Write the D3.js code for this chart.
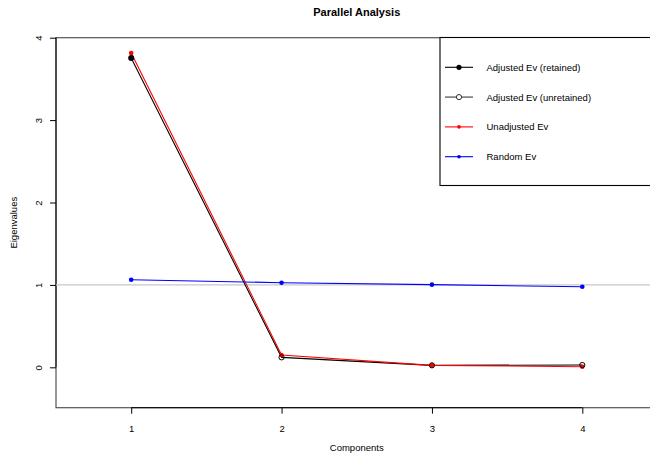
<!DOCTYPE html>
<html>
<head>
<meta charset="utf-8">
<script src="https://cdn.jsdelivr.net/npm/d3@7"></script>
<style>
  body { margin: 0; background: #fff; }
  text { font-family: "Liberation Sans", Arial, sans-serif; }
</style>
</head>
<body>
<div class="chart"></div>
<script>
// data
var components = [1, 2, 3, 4];
var adjustedEv = [3.754, 0.121, 0.024, 0.028];
var unadjustedEv = [3.814, 0.150, 0.024, 0.007];
var randomEv = [1.063, 1.027, 1.003, 0.978];
var retained = [true, false, false, false];
var yTicks = [0, 1, 2, 3, 4];
var legendLabels = ["Adjusted Ev (retained)", "Adjusted Ev (unretained)", "Unadjusted Ev", "Random Ev"];

var svgWidth = 650;
var svgHeight = 460;

var margin = { top: 37.7, bottom: 52.3, left: 56, right: -7.5 };
var width = svgWidth - margin.left - margin.right;
var height = svgHeight - margin.top - margin.bottom;

var svg = d3.select(".chart")
  .append("svg")
  .attr("width", svgWidth)
  .attr("height", svgHeight);

var chartGroup = svg.append("g")
  .attr("transform", `translate(${margin.left}, ${margin.top})`);

// scales
var xScale = d3.scaleLinear().domain([0.5, 4.5]).range([0, width]);
var yScale = d3.scaleLinear().domain([-0.49, 4]).range([height, 0]);

// box around the plot
chartGroup.append("rect")
  .attr("x", 0).attr("y", 0)
  .attr("width", width).attr("height", height)
  .attr("fill", "none")
  .attr("stroke", "#555")
  .attr("stroke-width", 1.2);

// axes
var xAxis = d3.axisBottom(xScale).tickValues(components).tickFormat(d3.format("d"))
  .tickSize(6).tickSizeOuter(0).tickPadding(12);
var yAxis = d3.axisLeft(yScale).tickValues(yTicks).tickFormat(d3.format("d"))
  .tickSize(6).tickSizeOuter(0);

var xg = chartGroup.append("g")
  .attr("transform", `translate(0, ${height})`)
  .call(xAxis);
xg.select(".domain").attr("d", `M${xScale(1)},0H${xScale(4)}`).attr("stroke", "#000");
xg.selectAll("text").attr("font-size", "9.5px").attr("fill", "#000")
  .attr("font-family", "Liberation Sans, Arial, sans-serif");

var yg = chartGroup.append("g").call(yAxis);
yg.select(".domain").attr("d", `M0,${yScale(0)}V${yScale(4)}`).attr("stroke", "#000");
yg.selectAll(".tick text")
  .attr("font-size", "9.5px").attr("fill", "#000")
  .attr("font-family", "Liberation Sans, Arial, sans-serif")
  .attr("x", null).attr("dy", null)
  .attr("text-anchor", "middle")
  .attr("transform", "translate(-14,0) rotate(-90)");

// reference line at eigenvalue 1
chartGroup.append("line")
  .attr("x1", 0).attr("x2", width)
  .attr("y1", yScale(1)).attr("y2", yScale(1))
  .attr("stroke", "#c8c8c8").attr("stroke-width", 1.2);

var line = d3.line()
  .x((d, i) => xScale(components[i]))
  .y(d => yScale(d));

// adjusted ev
chartGroup.append("path")
  .datum(adjustedEv)
  .attr("d", line)
  .attr("fill", "none")
  .attr("stroke", "#000")
  .attr("stroke-width", 1.1);

// unadjusted ev
chartGroup.append("path")
  .datum(unadjustedEv)
  .attr("d", line)
  .attr("fill", "none")
  .attr("stroke", "#ff0000")
  .attr("stroke-width", 1.1);

chartGroup.selectAll(".unadj")
  .data(unadjustedEv)
  .enter()
  .append("circle")
  .attr("cx", (d, i) => xScale(components[i]))
  .attr("cy", d => yScale(d))
  .attr("r", 2.3)
  .attr("fill", "#ff0000");

chartGroup.selectAll(".adj")
  .data(adjustedEv)
  .enter()
  .append("circle")
  .attr("cx", (d, i) => xScale(components[i]))
  .attr("cy", d => yScale(d))
  .attr("r", (d, i) => retained[i] ? 3 : 2.6)
  .attr("fill", (d, i) => retained[i] ? "#000" : "none")
  .attr("stroke", "#000")
  .attr("stroke-width", (d, i) => retained[i] ? 0 : 1);

// random ev
chartGroup.append("path")
  .datum(randomEv)
  .attr("d", line)
  .attr("fill", "none")
  .attr("stroke", "#0000ff")
  .attr("stroke-width", 1.1);

chartGroup.selectAll(".rand")
  .data(randomEv)
  .enter()
  .append("circle")
  .attr("cx", (d, i) => xScale(components[i]))
  .attr("cy", d => yScale(d))
  .attr("r", 2.3)
  .attr("fill", "#0000ff");

// title and axis labels
svg.append("text")
  .attr("x", margin.left + width / 2)
  .attr("y", 16)
  .attr("text-anchor", "middle")
  .attr("font-size", "11px")
  .attr("font-weight", "bold")
  .text("Parallel Analysis");

svg.append("text")
  .attr("x", margin.left + width / 2)
  .attr("y", 451)
  .attr("text-anchor", "middle")
  .attr("font-size", "9.5px")
  .text("Components");

svg.append("text")
  .attr("transform", `translate(17, ${margin.top + height / 2}) rotate(-90)`)
  .attr("text-anchor", "middle")
  .attr("font-size", "9.5px")
  .text("Eigenvalues");

// legend
var legend = svg.append("g").attr("transform", "translate(440, 37.5)");
legend.append("rect")
  .attr("x", 0).attr("y", 0)
  .attr("width", 230).attr("height", 148)
  .attr("fill", "#fff")
  .attr("stroke", "#000")
  .attr("stroke-width", 1.1);

var legendStroke = ["#000", "#777", "#ff0000", "#0000ff"];
var legendRows = legend.selectAll(".row")
  .data(legendLabels)
  .enter()
  .append("g")
  .attr("transform", (d, i) => `translate(0, ${29.8 + i * 29.8})`);

legendRows.append("line")
  .attr("x1", 5).attr("x2", 33)
  .attr("stroke", (d, i) => legendStroke[i])
  .attr("stroke-width", (d, i) => i === 1 ? 1.6 : 1.1);

legendRows.append("circle")
  .attr("cx", 19)
  .attr("r", (d, i) => i < 2 ? 2.6 : 1.8)
  .attr("fill", (d, i) => i === 1 ? "#fff" : legendStroke[i])
  .attr("stroke", (d, i) => i === 1 ? "#333" : "none")
  .attr("stroke-width", 1);

legendRows.append("text")
  .attr("x", 46.5)
  .attr("y", 3.4)
  .attr("font-size", "9.5px")
  .text(d => d);
</script>
</body>
</html>
